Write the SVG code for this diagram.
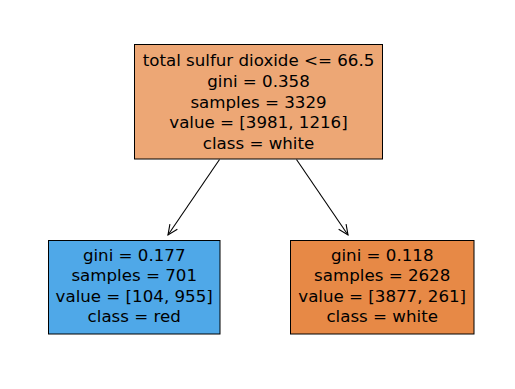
<svg xmlns="http://www.w3.org/2000/svg" width="515" height="389" viewBox="0 0 515 389">
<style>
.box{stroke:#000;stroke-width:1}
text{font-family:"DejaVu Sans",sans-serif;font-size:16.67px;fill:#000;text-anchor:middle}
.edge{stroke:#000;stroke-width:1.1;fill:none}
</style>
<defs>
<marker id="arr" viewBox="0 0 12 12" refX="11" refY="6" markerWidth="12" markerHeight="12" markerUnits="userSpaceOnUse" orient="auto">
<path d="M1,1.5 L11,6 L1,10.5" fill="none" stroke="#000" stroke-width="1.1"/>
</marker>
</defs>
<rect width="515" height="389" fill="#fff"/>
<g id="connectors">
<line class="edge" x1="219.5" y1="159.5" x2="168" y2="235" marker-end="url(#arr)"/>
<line class="edge" x1="296.5" y1="159.5" x2="348" y2="235" marker-end="url(#arr)"/>
</g>
<g id="root">
<rect class="box" x="134.5" y="44.5" width="248" height="114.5" fill="#eda775"/>
<text x="258.5" y="66.3">total sulfur dioxide &lt;= 66.5</text>
<text x="258.5" y="86.9">gini = 0.358</text>
<text x="258.5" y="107.5">samples = 3329</text>
<text x="258.5" y="128.1">value = [3981, 1216]</text>
<text x="258.5" y="148.7">class = white</text>
</g>
<g id="left">
<rect class="box" x="48.5" y="240.5" width="171.5" height="93.5" fill="#4fa8e8"/>
<text x="134.2" y="260.7">gini = 0.177</text>
<text x="134.2" y="281.1">samples = 701</text>
<text x="134.2" y="301.5">value = [104, 955]</text>
<text x="134.2" y="321.9">class = red</text>
</g>
<g id="right">
<rect class="box" x="290.5" y="240.5" width="183.5" height="93.5" fill="#e78946"/>
<text x="382.2" y="260.7">gini = 0.118</text>
<text x="382.2" y="281.1">samples = 2628</text>
<text x="382.2" y="301.5">value = [3877, 261]</text>
<text x="382.2" y="321.9">class = white</text>
</g>
</svg>
